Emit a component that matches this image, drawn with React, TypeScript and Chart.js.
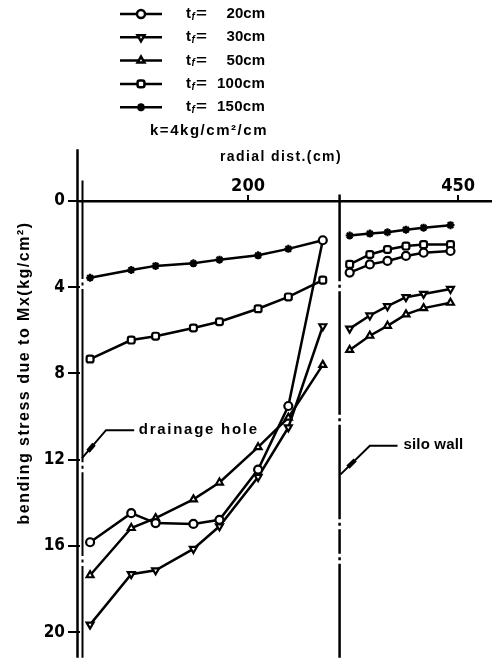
import { useEffect, useRef } from 'react';
import { Chart, registerables } from 'chart.js';
import { drawPoint } from 'chart.js/helpers';

Chart.register(...registerables);

// Slab thickness t_f (cm) of each curve
const thicknessLabels = ['20', '30', '50', '100', '150'];

// Radial distance (cm) of the computed points: inside the drainage hole ring and outside the silo wall
const innerDist = [12, 61, 90, 135, 166, 212, 248, 289];
const outerDist = [321, 345, 366, 388, 409, 441];

// Bending stress due to Mx (kg/cm²)
const tf20Inner = [15.83, 14.48, 14.94, 14.98, 14.79, 12.46, 9.51, 1.82];
const tf20Outer = [3.32, 2.94, 2.78, 2.55, 2.4, 2.32];
const tf30Inner = [19.65, 17.31, 17.13, 16.14, 15.09, 12.8, 10.5, 5.81];
const tf30Outer = [5.92, 5.31, 4.88, 4.46, 4.31, 4.08];
const tf50Inner = [17.36, 15.17, 14.71, 13.84, 13.06, 11.42, 10.05, 7.6];
const tf50Outer = [6.91, 6.25, 5.79, 5.26, 4.97, 4.72];
const tf100Inner = [7.33, 6.45, 6.27, 5.89, 5.6, 5.0, 4.45, 3.67];
const tf100Outer = [2.94, 2.48, 2.25, 2.09, 2.02, 2.02];
const tf150Inner = [3.56, 3.2, 3.01, 2.89, 2.72, 2.52, 2.22, 1.82];
const tf150Outer = [1.6, 1.51, 1.45, 1.33, 1.24, 1.12];

// Axis ticks
const xTickValues = [200, 450];
const yTickValues = [0, 4, 8, 12, 16, 20];

// Structural positions (cm)
const siloWallDist = 309;

// Marker shapes per curve
const markerShapes = ['circle', 'triangle', 'triangle', 'rectRounded', 'star'];
const markerRotations = [0, 180, 0, 0, 0];

const narrowFont = '"Liberation Sans Narrow", "DejaVu Sans Condensed", "Liberation Sans", sans-serif';
const textFont = '"Liberation Sans", Arial, sans-serif';

function toPoints(inner: number[], outer: number[]) {
  const gapX = (innerDist[innerDist.length - 1] + outerDist[0]) / 2;
  return [
    ...innerDist.map((x, i) => ({ x, y: inner[i] })),
    { x: gapX, y: null as any },
    ...outerDist.map((x, i) => ({ x, y: outer[i] })),
  ];
}

function fittedText(
  ctx: CanvasRenderingContext2D,
  text: string,
  x: number,
  y: number,
  width: number,
  font: string,
  align: CanvasTextAlign = 'left'
) {
  ctx.font = font;
  (ctx as any).letterSpacing = '0px';
  const w = ctx.measureText(text).width;
  const n = Array.from(text).length;
  const spacing = n > 1 ? (width - w) / n : 0;
  (ctx as any).letterSpacing = `${spacing}px`;
  ctx.textAlign = align;
  ctx.textBaseline = 'middle';
  ctx.fillText(text, x, y);
  (ctx as any).letterSpacing = '0px';
}

function brokenVLine(
  ctx: CanvasRenderingContext2D,
  xPix: number,
  yTop: number,
  yBottom: number,
  gaps: number[],
  width: number
) {
  ctx.lineWidth = width;
  ctx.lineCap = 'butt';
  ctx.beginPath();
  let start = yTop;
  for (const g of gaps) {
    ctx.moveTo(xPix, start);
    ctx.lineTo(xPix, g - 5);
    ctx.moveTo(xPix, g - 1.5);
    ctx.lineTo(xPix, g + 1.5);
    start = g + 5;
  }
  ctx.moveTo(xPix, start);
  ctx.lineTo(xPix, yBottom);
  ctx.stroke();
}

function leader(
  ctx: CanvasRenderingContext2D,
  anchor: [number, number],
  elbow: [number, number],
  end: [number, number]
) {
  ctx.lineWidth = 2;
  ctx.beginPath();
  ctx.moveTo(end[0], end[1]);
  ctx.lineTo(elbow[0], elbow[1]);
  ctx.lineTo(anchor[0], anchor[1]);
  ctx.stroke();
  // thickened stroke near the pointed end
  const t0 = 0.25;
  const t1 = 0.5;
  ctx.lineWidth = 4.5;
  ctx.beginPath();
  ctx.moveTo(anchor[0] + (elbow[0] - anchor[0]) * t0, anchor[1] + (elbow[1] - anchor[1]) * t0);
  ctx.lineTo(anchor[0] + (elbow[0] - anchor[0]) * t1, anchor[1] + (elbow[1] - anchor[1]) * t1);
  ctx.stroke();
}

const figureNotes = {
  id: 'figureNotes',
  afterDraw(chart: any) {
    const { ctx, chartArea } = chart;
    const xs = chart.scales.x;
    const ys = chart.scales.y;
    const px = (v: number) => xs.getPixelForValue(v);
    const py = (v: number) => ys.getPixelForValue(v);
    ctx.save();
    ctx.strokeStyle = '#000';
    ctx.fillStyle = '#000';

    // double line at the drainage hole edge (radial distance 0)
    ctx.lineWidth = 2.5;
    ctx.beginPath();
    ctx.moveTo(px(0) - 2.5, py(-2.4));
    ctx.lineTo(px(0) - 2.5, chartArea.bottom);
    ctx.stroke();
    brokenVLine(ctx, px(0) + 2.5, py(-0.95), chartArea.bottom, [py(3.85), py(12.35), py(16.7)], 2);

    // silo wall
    brokenVLine(ctx, px(siloWallDist), py(-0.3), chartArea.bottom, [py(3.95), py(10.15), py(15.0), py(16.6)], 2.5);

    // leaders and notes
    leader(ctx, [px(0) + 2, py(11.93)], [px(31), py(10.63)], [px(64.5), py(10.63)]);
    fittedText(ctx, 'drainage hole', px(70), py(10.6), 120, `bold 15px ${textFont}`);

    leader(ctx, [px(siloWallDist) + 1, py(12.68)], [px(345), py(11.35)], [px(378), py(11.35)]);
    fittedText(ctx, 'silo wall', px(385), py(11.3), 60, `bold 15px ${textFont}`);

    // axis titles
    fittedText(ctx, 'radial dist.(cm)', 220, 157, 122, `bold 14px ${textFont}`);
    ctx.save();
    ctx.translate(25, 373);
    ctx.rotate(-Math.PI / 2);
    fittedText(ctx, 'bending stress due to Mx(kg/cm\u00B2)', 0, 0, 303, `bold 16px ${textFont}`, 'center');
    ctx.restore();

    // legend
    chart.data.datasets.forEach((ds: any, i: number) => {
      const rowY = 14 + 23.3 * i;
      ctx.lineWidth = 2.5;
      ctx.beginPath();
      ctx.moveTo(120, rowY);
      ctx.lineTo(162, rowY);
      ctx.stroke();
      ctx.fillStyle = '#fff';
      ctx.strokeStyle = '#000';
      drawPoint(
        ctx,
        { pointStyle: ds.pointStyle, rotation: ds.pointRotation, radius: 4, borderWidth: 2.2 } as any,
        141,
        rowY
      );
      ctx.fillStyle = '#000';
      ctx.textBaseline = 'middle';
      ctx.textAlign = 'left';
      ctx.font = `bold 15px ${textFont}`;
      ctx.fillText('t', 186, rowY);
      ctx.font = `italic bold 10px ${textFont}`;
      ctx.fillText('f', 191.5, rowY + 3);
      ctx.font = `bold 15px ${textFont}`;
      ctx.save();
      ctx.translate(196, rowY);
      ctx.scale(1.25, 1);
      ctx.fillText('=', 0, 0);
      ctx.restore();
      const tail = `${thicknessLabels[i]}cm`;
      fittedText(ctx, tail, 265, rowY, tail.length * 9.6, `bold 15px ${textFont}`, 'right');
    });
    fittedText(ctx, 'k=4kg/cm\u00B2/cm', 150, 131, 118, `bold 15px ${textFont}`);

    ctx.restore();
  },
};

export default function App() {
  const canvasRef = useRef<HTMLCanvasElement | null>(null);

  useEffect(() => {
    const canvas = canvasRef.current;
    if (!canvas) return;

    const series = [
      [tf20Inner, tf20Outer],
      [tf30Inner, tf30Outer],
      [tf50Inner, tf50Outer],
      [tf100Inner, tf100Outer],
      [tf150Inner, tf150Outer],
    ];

    const chart = new Chart(canvas, {
      type: 'line',
      data: {
        datasets: series.map(([inner, outer], i) => ({
          label: `t_f=${thicknessLabels[i]}cm`,
          data: toPoints(inner, outer),
          borderColor: '#000',
          borderWidth: 2.5,
          pointStyle: markerShapes[i] as any,
          pointRotation: markerRotations[i],
          pointRadius: 4,
          pointBorderWidth: 2.2,
          pointBackgroundColor: '#fff',
          pointBorderColor: '#000',
          tension: 0,
          spanGaps: false,
          clip: false as any,
        })),
      },
      options: {
        animation: false,
        responsive: false,
        events: [],
        layout: { padding: 0 },
        plugins: {
          legend: { display: false },
          tooltip: { enabled: false },
        },
        scales: {
          x: {
            type: 'linear',
            position: 'top',
            min: 0,
            max: 489,
            afterBuildTicks: (s: any) => {
              s.ticks = xTickValues.map((v) => ({ value: v }));
            },
            afterFit: (s: any) => {
              s.height = 201;
              s.paddingLeft = 0;
              s.paddingRight = 0;
            },
            grid: { drawOnChartArea: false, drawTicks: true, tickLength: 6, color: '#000', lineWidth: 2 },
            border: { display: true, color: '#000', width: 2.5 },
            ticks: {
              color: '#000',
              font: { family: narrowFont, size: 18, weight: 'bold', lineHeight: 1 },
              padding: 0,
              maxRotation: 0,
              autoSkip: false,
            },
          },
          y: {
            type: 'linear',
            position: 'left',
            reverse: true,
            min: 0,
            max: 21.19,
            afterBuildTicks: (s: any) => {
              s.ticks = yTickValues.map((v) => ({ value: v }));
            },
            afterFit: (s: any) => {
              s.width = 80;
              s.paddingTop = 0;
              s.paddingBottom = 0;
            },
            grid: { drawOnChartArea: false, drawTicks: true, tickLength: 12, color: '#000', lineWidth: 2 },
            border: { display: false },
            ticks: {
              color: '#000',
              font: { family: narrowFont, size: 17, weight: 'bold' },
              padding: 3,
              autoSkip: false,
            },
          },
        },
      },
      plugins: [figureNotes],
    });

    return () => chart.destroy();
  }, []);

  return (
    <div style={{ position: 'fixed', left: 0, top: 0, width: 497, height: 664, background: '#fff' }}>
      <canvas ref={canvasRef} width={497} height={664} style={{ width: 497, height: 664, display: 'block' }} />
    </div>
  );
}
